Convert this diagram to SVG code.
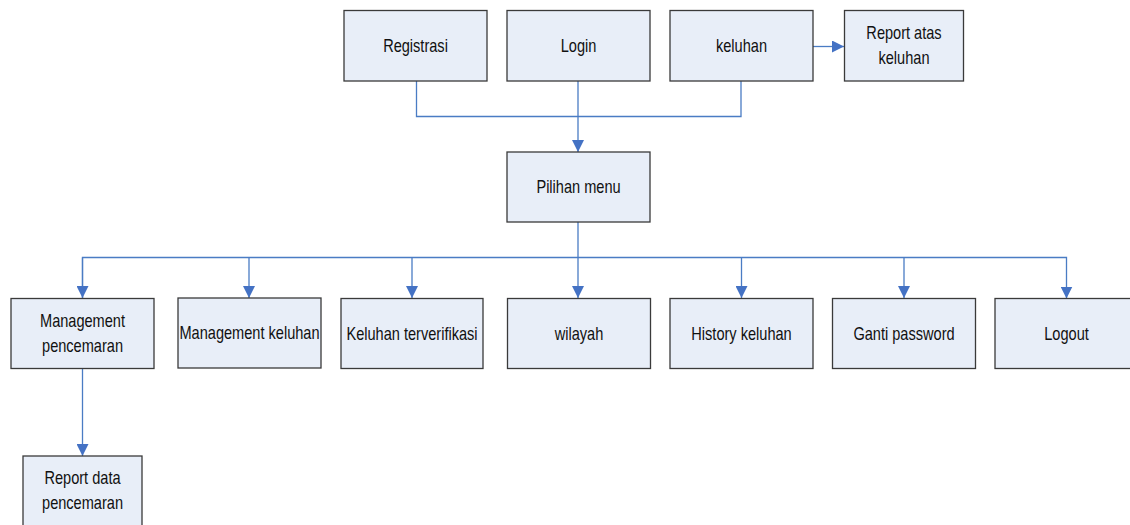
<svg xmlns="http://www.w3.org/2000/svg" width="1130" height="525" viewBox="0 0 1130 525">
<defs>
<style>
.box{fill:#E8EEF8;stroke:#3A3A3A;stroke-width:1.3}
.t{font-family:"Liberation Sans",Arial,sans-serif;font-size:18px;fill:#111;text-anchor:middle}
.c{fill:none;stroke:#4A7CC4;stroke-width:1.3}
</style>
<marker id="ah" markerWidth="12" markerHeight="12" viewBox="0 0 12 12" refX="12" refY="6" orient="auto" markerUnits="userSpaceOnUse">
<path d="M0,0 L12,6 L0,12 Z" fill="#4472C4"/>
</marker>
</defs>
<rect width="1130" height="525" fill="#fff"/>
<g id="connectors">
<path class="c" d="M416.5,81 V116.5 H741 V81"/>
<path class="c" d="M578,81 V152" marker-end="url(#ah)"/>
<path class="c" d="M812,46.5 H844" marker-end="url(#ah)"/>
<path class="c" d="M578,222 V257.5"/>
<path class="c" d="M82.5,298.5 V257.5 H1066.5 V298.5" marker-end="url(#ah)"/>
<path class="c" d="M249,257.5 V298" marker-end="url(#ah)"/>
<path class="c" d="M412,257.5 V298" marker-end="url(#ah)"/>
<path class="c" d="M578,257.5 V298" marker-end="url(#ah)"/>
<path class="c" d="M741.5,257.5 V298" marker-end="url(#ah)"/>
<path class="c" d="M904,257.5 V298" marker-end="url(#ah)"/>
<path class="c" d="M82.5,257.5 V298" marker-end="url(#ah)"/>
<path class="c" d="M82.5,369 V456" marker-end="url(#ah)"/>
</g>
<g id="registrasi"><rect class="box" x="344" y="10.5" width="143" height="70.5"/><text class="t" transform="translate(415.5,51.5) scale(0.81,1)">Registrasi</text></g>
<g id="login"><rect class="box" x="507" y="10.5" width="143" height="70.5"/><text class="t" transform="translate(578.5,51.5) scale(0.81,1)">Login</text></g>
<g id="keluhan"><rect class="box" x="670" y="10.5" width="143" height="70.5"/><text class="t" transform="translate(741.5,51.5) scale(0.81,1)">keluhan</text></g>
<g id="report-atas-keluhan"><rect class="box" x="844.5" y="10.5" width="119" height="70.5"/><text class="t" transform="translate(904,39) scale(0.81,1)">Report atas</text><text class="t" transform="translate(904,63.5) scale(0.81,1)">keluhan</text></g>
<g id="pilihan-menu"><rect class="box" x="507" y="152" width="143" height="70"/><text class="t" transform="translate(578.5,193) scale(0.81,1)">Pilihan menu</text></g>
<g id="management-pencemaran"><rect class="box" x="11" y="298.5" width="143" height="70"/><text class="t" transform="translate(82.5,327) scale(0.81,1)">Management</text><text class="t" transform="translate(82.5,352) scale(0.81,1)">pencemaran</text></g>
<g id="management-keluhan"><rect class="box" x="178" y="298" width="143" height="70"/><text class="t" transform="translate(249.5,339) scale(0.81,1)">Management keluhan</text></g>
<g id="keluhan-terverifikasi"><rect class="box" x="341" y="298.5" width="142" height="70"/><text class="t" transform="translate(412,339.5) scale(0.81,1)">Keluhan terverifikasi</text></g>
<g id="wilayah"><rect class="box" x="507.5" y="298.5" width="143" height="70"/><text class="t" transform="translate(579,339.5) scale(0.81,1)">wilayah</text></g>
<g id="history-keluhan"><rect class="box" x="670" y="298.5" width="143" height="70"/><text class="t" transform="translate(741.5,339.5) scale(0.81,1)">History keluhan</text></g>
<g id="ganti-password"><rect class="box" x="832.5" y="298.5" width="143" height="70"/><text class="t" transform="translate(904,339.5) scale(0.81,1)">Ganti password</text></g>
<g id="logout"><rect class="box" x="995" y="298.5" width="143" height="70"/><text class="t" transform="translate(1066.5,339.5) scale(0.81,1)">Logout</text></g>
<g id="report-data-pencemaran"><rect class="box" x="23" y="456" width="119" height="80"/><text class="t" transform="translate(82.5,484) scale(0.81,1)">Report data</text><text class="t" transform="translate(82.5,509) scale(0.81,1)">pencemaran</text></g>
</svg>
